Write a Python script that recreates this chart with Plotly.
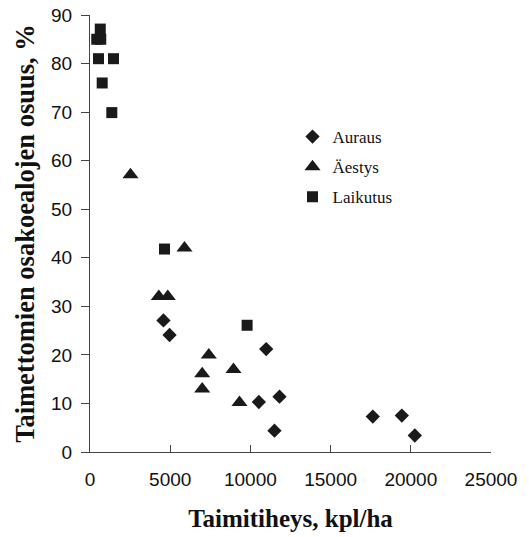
import plotly.graph_objects as go

# Data
auraus_x = [4580, 4960, 10985, 10525, 11815, 11500, 17630, 19440, 20250]
auraus_y = [27.1, 24.1, 21.2, 10.3, 11.4, 4.4, 7.3, 7.5, 3.4]

aestys_x = [2525, 5890, 4290, 4850, 7405, 8945, 6995, 6995, 9320]
aestys_y = [57.1, 42.0, 32.0, 32.0, 20.0, 17.0, 16.1, 13.0, 10.2]

laikutus_x = [640, 420, 670, 530, 1465, 760, 1360, 4645, 9795]
laikutus_y = [87.1, 85.0, 85.0, 81.0, 81.0, 76.0, 69.9, 41.8, 26.1]

x_ticks = [0, 5000, 10000, 15000, 20000, 25000]
y_ticks = [0, 10, 20, 30, 40, 50, 60, 70, 80, 90]

series = [
    ("Auraus", auraus_x, auraus_y, "diamond", 11),
    ("Äestys", aestys_x, aestys_y, "triangle-up", 14),
    ("Laikutus", laikutus_x, laikutus_y, "square", 11),
]

fig = go.Figure()
for i, (name, xs, ys, sym, sz) in enumerate(series):
    fig.add_trace(go.Scatter(
        x=xs, y=ys, mode="markers", name=name, legendgroup=name,
        marker=dict(symbol=sym, size=sz, color="#1a1a1a", line=dict(width=0)),
    ))

axis_col = "#444444"
fig.update_layout(
    width=529, height=537,
    margin=dict(l=90, r=38, t=15, b=85, autoexpand=False),
    paper_bgcolor="white", plot_bgcolor="white",
    showlegend=True,
    legend=dict(
        x=0.505, y=0.762, xanchor="left", yanchor="top",
        font=dict(family="Liberation Serif", size=17, color="#111111"),
        tracegroupgap=5, bgcolor="rgba(0,0,0,0)", itemsizing="trace",
    ),
    xaxis=dict(
        range=[0, 25000], tickvals=x_ticks, ticktext=[str(v) for v in x_ticks],
        ticks="inside", ticklen=7, tickcolor=axis_col, tickwidth=1,
        showline=True, linecolor=axis_col, linewidth=1,
        showgrid=False, zeroline=False, automargin=False,
        ticklabeloverflow="allow",
        tickfont=dict(family="Liberation Sans", size=19, color="#111111"),
        ticklabelstandoff=10,
        title=dict(text="<b>Taimitiheys, kpl/ha</b>", standoff=20,
                   font=dict(family="Liberation Serif", size=25, color="#111111")),
    ),
    xaxis2=dict(
        overlaying="x", anchor="y", side="bottom", range=[0, 25000],
        tickvals=x_ticks, ticks="outside", ticklen=5, tickcolor=axis_col,
        showticklabels=False, showline=False, showgrid=False, zeroline=False,
        automargin=False,
    ),
    yaxis=dict(
        range=[0, 90], tickvals=y_ticks, ticks="outside", ticklen=8,
        tickcolor=axis_col, tickwidth=1,
        showline=True, linecolor=axis_col, linewidth=1,
        showgrid=False, zeroline=False, automargin=False,
        ticklabeloverflow="allow",
        tickfont=dict(family="Liberation Sans", size=19, color="#111111"),
        ticklabelstandoff=5,
        title=dict(text="<b>Taimettomien osakoealojen osuus, %</b>", standoff=8,
                   font=dict(family="Liberation Serif", size=26.5, color="#111111")),
    ),
)

fig.write_html("out.html", config={"displayModeBar": False},
               post_script="document.body.style.margin='0';")
